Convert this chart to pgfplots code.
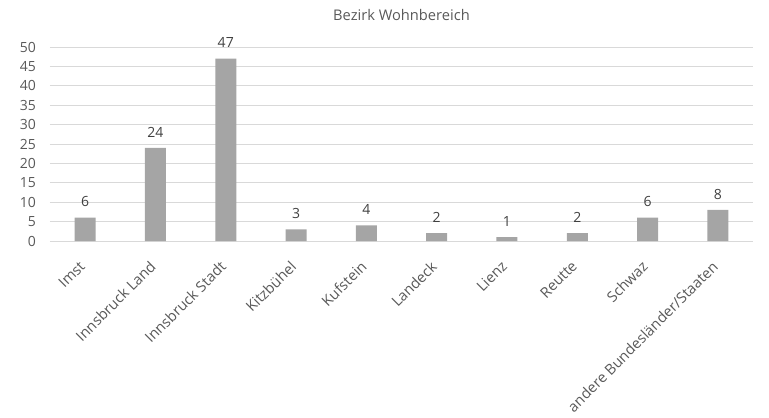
\documentclass[border=0pt]{standalone}
\usepackage{pgfplots}
\pgfplotsset{compat=1.18}
\usepackage{fontspec}
\setmainfont{Open Sans}
\definecolor{barc}{HTML}{A5A5A5}
\definecolor{gridc}{HTML}{D9D9D9}
\definecolor{txtc}{HTML}{595959}
\definecolor{lblc}{HTML}{404040}
\begin{document}
\begin{tikzpicture}
\useasboundingbox (-37.5pt,-132.75pt) rectangle (539.25pt,180.75pt);
\begin{axis}[
  scale only axis,
  width=527.25pt, height=145.5pt,
  xmin=-0.5, xmax=9.5,
  ymin=0, ymax=50,
  ytick={0,5,...,50},
  xtick={0,...,9},
  xticklabels={Imst,Innsbruck Land,Innsbruck Stadt,Kitzbühel,Kufstein,Landeck,Lienz,Reutte,Schwaz,andere Bundesländer/Staaten},
  xticklabel style={xshift=-5pt, yshift=-14pt, rotate=45, anchor=north east, inner sep=0pt, font=\fontsize{11}{13}\selectfont, text=txtc},
  yticklabel style={font=\fontsize{10.5}{12}\selectfont, text=txtc, xshift=-7pt},
  /pgf/number format/assume math mode=true,
  axis line style={draw=none},
  axis x line*=bottom,
  axis y line*=left,
  x axis line style={draw=gridc},
  major tick length=0pt,
  ymajorgrids,
  grid style={gridc, line width=0.75pt},
  title={Bezirk Wohnbereich},
  title style={font=\fontsize{11}{13}\selectfont, text=txtc, yshift=10.5pt},
  ybar, bar width=15.75pt,
  nodes near coords,
  every node near coord/.append style={font=\fontsize{10.5}{12}\selectfont, text=lblc, yshift=4.5pt},
]
\addplot[fill=barc, draw=none] coordinates {(0,6) (1,24) (2,47) (3,3) (4,4) (5,2) (6,1) (7,2) (8,6) (9,8)};
\end{axis}
\end{tikzpicture}
\end{document}
